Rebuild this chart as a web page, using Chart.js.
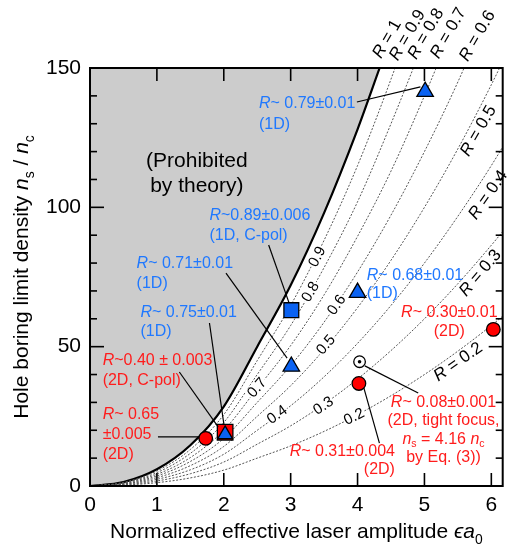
<!DOCTYPE html>
<html>
<head>
<meta charset="utf-8">
<title>Hole boring limit density</title>
<script src="https://cdn.jsdelivr.net/npm/chart.js@4.4.1/dist/chart.umd.min.js"></script>
<style>
  html, body { margin: 0; padding: 0; background: #fff; }
  canvas { display: block; }
</style>
</head>
<body>
<canvas id="hbChart" width="515" height="547"></canvas>
<script>
// amplitude values the dotted theory curves were read at
const ampGrid = [0, 0.5, 1, 1.5, 2, 2.5, 3, 3.5, 4, 4.5, 5, 5.5, 6, 6.5];

// R = 1 curve, edge of the prohibited region
const boundaryAmp = [0, 0.5, 1, 1.5, 2, 2.5, 3, 3.5, 4, 4.33];
const boundaryDens = [0, 1.4, 6.0, 14.6, 28.5, 50, 72, 98, 128, 150];

// dotted curves for R = 0.9 ... 0.2 (n_s / n_c read at ampGrid)
const densR09 = [0, 1.3, 5.4, 13.1, 25.6, 45, 64.8, 88.2, 115, 146, 180];
const densR08 = [0, 1.1, 4.8, 11.7, 22.8, 40, 57.6, 78.4, 102, 130, 160];
const densR07 = [0, 1.0, 4.2, 10.2, 20.0, 35, 50.4, 68.6, 89.6, 113, 140, 169];
const densR06 = [0, 0.8, 3.6, 8.8, 17.1, 30, 43.2, 58.8, 76.8, 97.2, 120, 145, 173];
const densR05 = [0, 0.7, 3.0, 7.3, 14.2, 25, 36, 49, 64, 81, 100, 121, 144, 169];
const densR04 = [0, 0.6, 2.4, 5.8, 11.4, 20, 28.8, 39.2, 51.2, 64.8, 80, 96.8, 115, 135];
const densR03 = [0, 0.4, 1.8, 4.4, 8.6, 15, 21.6, 29.4, 38.4, 48.6, 60, 72.6, 86.4, 101];
const densR02 = [0, 0.3, 1.2, 2.9, 5.7, 10, 14.4, 19.6, 25.6, 32.4, 40, 48.4, 57.6, 67.6];

// measured points
const triAmp = [5.01, 3.01, 4.0];          // blue triangles (1D)
const triDens = [141.5, 42.9, 69.4];
const sqAmp = [3.01];                       // blue square (1D, C-pol)
const sqDens = [63.1];
const redSqAmp = [2.02];                    // red square (2D, C-pol)
const redSqDens = [19.3];
const innerTriAmp = [2.02];                 // blue triangle sitting in the red square
const innerTriDens = [18.5];
const circAmp = [1.73, 4.02, 6.03];         // red circles (2D)
const circDens = [17.1, 36.8, 56.2];
const focusAmp = [4.03];                    // tight focus point
const focusDens = [44.6];

const FONT = 'Helvetica, Arial, "Liberation Sans", sans-serif';
const BLUE_TXT = '#1f78ff';
const RED_TXT = '#ff1c1c';

const pts = (xs, ys) => xs.map((v, i) => ({ x: v, y: ys[i] }));

const datasets = [];
const marker = { borderColor: '#000', borderWidth: 1.3, showLine: false };
datasets.push({ ...marker, data: pts(focusAmp, focusDens), pointStyle: 'circle', pointRadius: 1.8, backgroundColor: '#000', borderWidth: 0, order: 0 });
datasets.push({ ...marker, data: pts(focusAmp, focusDens), pointStyle: 'circle', pointRadius: 5.8, backgroundColor: '#fff', order: 1 });
datasets.push({ ...marker, data: pts(innerTriAmp, innerTriDens), pointStyle: 'triangle', pointRadius: 8.5, backgroundColor: '#0a62f2', order: 0 });
datasets.push({ ...marker, data: pts(redSqAmp, redSqDens), pointStyle: 'rect', pointRadius: 11, backgroundColor: '#ff0000', order: 1 });
datasets.push({ ...marker, data: pts(triAmp, triDens), pointStyle: 'triangle', pointRadius: 9.5, backgroundColor: '#0a62f2', order: 1 });
datasets.push({ ...marker, data: pts(sqAmp, sqDens), pointStyle: 'rect', pointRadius: 10.5, backgroundColor: '#0a62f2', order: 1 });
datasets.push({ ...marker, data: pts(circAmp, circDens), pointStyle: 'circle', pointRadius: 6.8, backgroundColor: '#ff0000', order: 1 });

[densR09, densR08, densR07, densR06, densR05, densR04, densR03, densR02].forEach(vals => {
  datasets.push({
    data: pts(ampGrid.slice(0, vals.length), vals),
    showLine: true, borderColor: '#555555', borderWidth: 1, borderDash: [2, 1.6],
    pointRadius: 0, fill: false, order: 5
  });
});

datasets.push({
  data: pts(boundaryAmp, boundaryDens),
  showLine: true, borderColor: '#000', borderWidth: 2.2, pointRadius: 0,
  fill: 'end', backgroundColor: '#cccccc', order: 10
});

// text blocks with optional pointer lines (positions in data units)
const notes = [
  { lines: ['*R*~ 0.79±0.01', '(1D)'], color: BLUE_TXT, at: [2.526, 137.4], align: 'left', lh: 21, from: [3.99, 137.8], to: [4.94, 143.2] },
  { lines: ['(Prohibited', 'by theory)'], color: '#000', at: [1.597, 116.6], align: 'center', lh: 25, size: 21 },
  { lines: ['*R*~0.89±0.006', '(1D, C-pol)'], color: BLUE_TXT, at: [1.786, 97.2], align: 'left', lh: 20, from: [2.671, 86.5], to: [2.976, 65.7] },
  { lines: ['*R*~ 0.71±0.01', '(1D)'], color: BLUE_TXT, at: [0.697, 79.7], align: 'left', lh: 20, from: [2.033, 76.4], to: [2.947, 45.9] },
  { lines: ['*R*~ 0.75±0.01', '(1D)'], color: BLUE_TXT, at: [0.755, 62.4], align: 'left', lh: 19, from: [1.786, 58.5], to: [2.003, 21.9] },
  { lines: ['*R*~0.40 ± 0.003', '(2D, C-pol)'], color: RED_TXT, at: [0.189, 44.9], align: 'left', lh: 20, from: [1.336, 40.9], to: [1.916, 21.2] },
  { lines: ['*R*~ 0.65', '±0.005', '(2D)'], color: RED_TXT, at: [0.189, 25.5], align: 'left', lh: 20, from: [1.016, 17.6], to: [1.626, 17.6] },
  { lines: ['*R*~ 0.68±0.01', '(1D)'], color: BLUE_TXT, at: [4.138, 75.4], align: 'left', lh: 18 },
  { lines: ['*R*~ 0.30±0.01', '(2D)'], color: RED_TXT, at: [5.372, 62.4], align: 'center', lh: 19 },
  { lines: ['*R*~ 0.08±0.001', '(2D, tight focus,', '*n*_s = 4.16 *n*_c', 'by Eq. (3))'], color: RED_TXT, at: [5.285, 30.1], align: 'center', lh: 18.5, from: [4.109, 43.1], to: [4.907, 33.4] },
  { lines: ['*R*~ 0.31±0.004', '(2D)'], color: RED_TXT, at: [4.559, 12.2], align: 'right', lh: 18, from: [4.094, 35.2], to: [4.327, 15.4] }
];

// curve names: outside/right edge ones and small in-line ones
const curveNames = [
  { t: '*R* = 1', at: [4.444, 160.4], rot: -60 },
  { t: '*R* = 0.9', at: [4.748, 161.8], rot: -60 },
  { t: '*R* = 0.8', at: [5.024, 162.2], rot: -60 },
  { t: '*R* = 0.7', at: [5.358, 162.5], rot: -60 },
  { t: '*R* = 0.6', at: [5.793, 161.5], rot: -60 },
  { t: '*R* = 0.5', at: [5.808, 127.4], rot: -60 },
  { t: '*R* = 0.4', at: [5.953, 104.4], rot: -55 },
  { t: '*R* = 0.3', at: [5.837, 76.4], rot: -50 },
  { t: '*R* = 0.2', at: [5.503, 44.5], rot: -35 }
];
const inlineNames = [
  { t: '0.9', at: [3.40, 82.2], rot: -62 },
  { t: '0.8', at: [3.30, 69.6], rot: -59 },
  { t: '0.7', at: [2.50, 35.2], rot: -49 },
  { t: '0.6', at: [3.69, 64.9], rot: -55 },
  { t: '0.5', at: [3.53, 50.6], rot: -49 },
  { t: '0.4', at: [2.80, 25.5], rot: -36 },
  { t: '0.3', at: [3.49, 28.7], rot: -33 },
  { t: '0.2', at: [3.95, 24.8], rot: -27 }
];

// '*' toggles italic, '_' makes the next character a subscript
function runsOf(str) {
  const runs = [];
  let italic = false;
  for (let i = 0; i < str.length; i++) {
    const ch = str[i];
    if (ch === '*') { italic = !italic; continue; }
    if (ch === '_') { runs.push({ t: str[++i], italic: false, sub: true }); continue; }
    const last = runs[runs.length - 1];
    if (last && !last.sub && last.italic === italic) last.t += ch;
    else runs.push({ t: ch, italic, sub: false });
  }
  return runs;
}

function richWidth(ctx, str, size) {
  let w = 0;
  runsOf(str).forEach(r => {
    ctx.font = (r.italic ? 'italic ' : '') + (r.sub ? size * 0.66 : size) + 'px ' + FONT;
    w += ctx.measureText(r.t).width;
  });
  return w;
}

function drawRich(ctx, str, x, y, size, align) {
  const runs = runsOf(str);
  const w = richWidth(ctx, str, size);
  let cx = align === 'center' ? x - w / 2 : align === 'right' ? x - w : x;
  ctx.textAlign = 'left';
  runs.forEach(r => {
    ctx.font = (r.italic ? 'italic ' : '') + (r.sub ? size * 0.66 : size) + 'px ' + FONT;
    ctx.fillText(r.t, cx, r.sub ? y + size * 0.28 : y);
    cx += ctx.measureText(r.t).width;
  });
}

const decor = {
  id: 'decor',
  afterDatasetsDraw(chart) {
    const { ctx, chartArea: a, scales: { x, y } } = chart;
    const P = p => [x.getPixelForValue(p[0]), y.getPixelForValue(p[1])];
    ctx.save();

    // pointer lines
    ctx.strokeStyle = '#000';
    ctx.lineWidth = 1.2;
    notes.filter(n => n.from).forEach(n => {
      const [x1, y1] = P(n.from), [x2, y2] = P(n.to);
      ctx.beginPath(); ctx.moveTo(x1, y1); ctx.lineTo(x2, y2); ctx.stroke();
    });

    // small labels sitting on the dotted curves
    ctx.textBaseline = 'middle';
    inlineNames.forEach(l => {
      const [lx, ly] = P(l.at);
      ctx.save();
      ctx.translate(lx, ly);
      ctx.rotate(l.rot * Math.PI / 180);
      ctx.font = '15px ' + FONT;
      const w = ctx.measureText(l.t).width;
      ctx.fillStyle = '#fff';
      ctx.fillRect(-w / 2 - 1, -7, w + 2, 14);
      ctx.fillStyle = '#000';
      drawRich(ctx, l.t, 0, 0, 15, 'center');
      ctx.restore();
    });

    // frame
    ctx.strokeStyle = '#000';
    ctx.lineWidth = 2;
    ctx.strokeRect(a.left, a.top, a.right - a.left, a.bottom - a.top);

    // inward ticks on all four sides
    ctx.lineWidth = 1.6;
    const seg = (x1, y1, x2, y2) => { ctx.beginPath(); ctx.moveTo(x1, y1); ctx.lineTo(x2, y2); ctx.stroke(); };
    for (let v = 1; v <= 6; v++) {
      const X = x.getPixelForValue(v);
      seg(X, a.bottom, X, a.bottom - 13);
      seg(X, a.top, X, a.top + 13);
    }
    for (let v = 10; v < 150; v += 10) {
      const Y = y.getPixelForValue(v);
      const len = v % 50 ? 7 : 14;
      seg(a.left, Y, a.left + len, Y);
      seg(a.right, Y, a.right - len, Y);
    }

    // curve names
    ctx.fillStyle = '#000';
    curveNames.forEach(l => {
      const [lx, ly] = P(l.at);
      ctx.save();
      ctx.translate(lx, ly);
      ctx.rotate(l.rot * Math.PI / 180);
      drawRich(ctx, l.t, 0, 0, 17, 'center');
      ctx.restore();
    });

    // annotation blocks
    notes.forEach(n => {
      const [nx, ny] = P(n.at);
      ctx.fillStyle = n.color;
      n.lines.forEach((line, i) => drawRich(ctx, line, nx, ny + i * n.lh, n.size || 16, n.align));
    });

    // axis titles
    ctx.fillStyle = '#000';
    ctx.textBaseline = 'alphabetic';
    drawRich(ctx, 'Normalized effective laser amplitude *ϵa*_0', (a.left + a.right) / 2, 538, 21, 'center');
    ctx.save();
    ctx.translate(28, (a.top + a.bottom) / 2);
    ctx.rotate(-Math.PI / 2);
    drawRich(ctx, 'Hole boring limit density *n*_s / *n*_c', 0, 0, 21, 'center');
    ctx.restore();

    ctx.restore();
  }
};

new Chart(document.getElementById('hbChart'), {
  type: 'scatter',
  data: { datasets },
  options: {
    responsive: false,
    animation: false,
    devicePixelRatio: 1,
    layout: { padding: { top: 68, left: 0, right: 0, bottom: 0 } },
    elements: { line: { cubicInterpolationMode: 'monotone' } },
    plugins: { legend: { display: false }, tooltip: { enabled: false } },
    scales: {
      x: {
        type: 'linear', min: 0, max: 6.17,
        grid: { display: false, drawTicks: false }, border: { display: false },
        ticks: { stepSize: 1, includeBounds: false, padding: 7, color: '#000', maxRotation: 0, autoSkip: false,
                 font: { family: FONT, size: 21 } },
        afterFit: s => { s.height = 61; }
      },
      y: {
        type: 'linear', min: 0, max: 150,
        grid: { display: false, drawTicks: false }, border: { display: false },
        ticks: { stepSize: 50, padding: 9, color: '#000', font: { family: FONT, size: 21 } },
        afterFit: s => { s.width = 90; }
      }
    }
  },
  plugins: [decor]
});
</script>
</body>
</html>
